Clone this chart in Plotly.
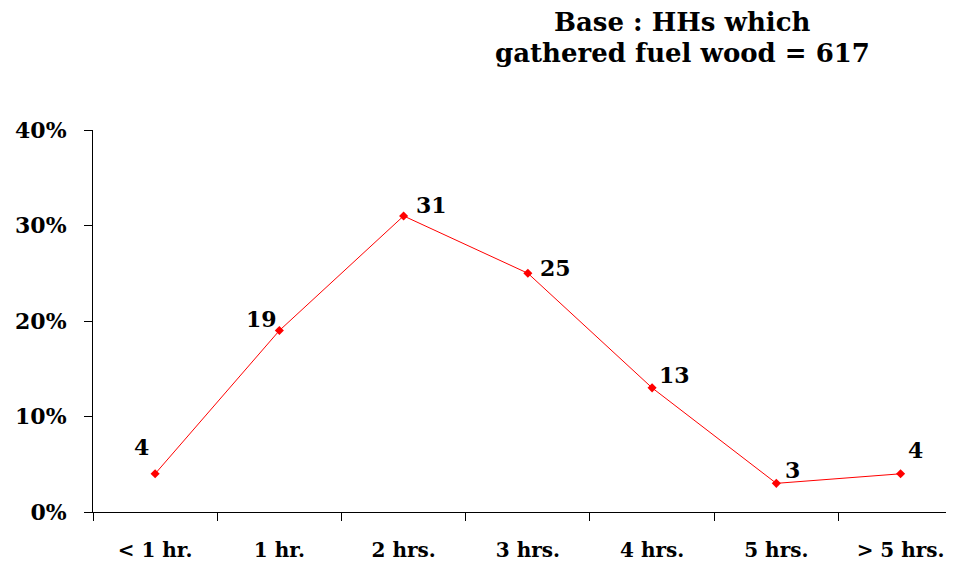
import plotly.graph_objects as go

categories = ["< 1 hr.", "1 hr.", "2 hrs.", "3 hrs.", "4 hrs.", "5 hrs.", "> 5 hrs."]
values = [4, 19, 31, 25, 13, 3, 4]
label_dx = [-14, -18, 28, 28, 22, 16, 15]
label_dy = [27, 12, 11, 5, 13, 13, 24]
title_lines = ["Base : HHs which", "gathered fuel wood = 617"]

FONT = "DejaVu Serif, Times New Roman, serif"

fig = go.Figure()
fig.add_trace(go.Scatter(
    x=categories, y=values,
    mode="lines+markers",
    line=dict(color="#ff0000", width=1),
    marker=dict(symbol="diamond", size=7, color="#ff0000"),
    hoverinfo="skip",
))

# data labels
for c, v, dx, dy in zip(categories, values, label_dx, label_dy):
    fig.add_annotation(
        x=c, y=v, text=f"<b>{v}</b>", showarrow=False,
        xshift=dx, yshift=dy,
        font=dict(family=FONT, size=22, color="black"),
    )

# title (top right), one annotation per line
for line, ty in zip(title_lines, [1.283, 1.2016]):
    fig.add_annotation(
        xref="paper", yref="paper", x=0.685, y=ty,
        xanchor="center", yanchor="middle", showarrow=False,
        text=f"<b>{line}</b>",
        font=dict(family=FONT, size=26, color="black"),
    )

# page body has an 8px margin, so the figure is offset by 8px
fig.update_layout(
    width=946, height=555,
    margin=dict(l=85, r=0, t=122, b=51),
    paper_bgcolor="white", plot_bgcolor="white",
    showlegend=False,
    font=dict(family=FONT, color="black"),
    xaxis=dict(
        type="category", range=[-0.5, 6.43], automargin=False,
        showline=True, linecolor="black", linewidth=1,
        ticks="outside", tickson="boundaries", ticklen=8, tickcolor="black",
        showgrid=False, zeroline=False,
        tickfont=dict(family=FONT, size=20, color="black"),
        tickprefix="<b>", ticksuffix="</b>",
        ticklabelstandoff=20,
    ),
    yaxis=dict(
        range=[0, 40], tickvals=[0, 10, 20, 30, 40], automargin=False,
        ticktext=["<b>0%</b>", "<b>10%</b>", "<b>20%</b>", "<b>30%</b>", "<b>40%</b>"],
        showline=True, linecolor="black", linewidth=1,
        ticks="outside", ticklen=8, tickcolor="black",
        showgrid=False, zeroline=False,
        tickfont=dict(family=FONT, size=22, color="black"),
        ticklabelstandoff=13,
    ),
)

fig.write_html("out.html")
